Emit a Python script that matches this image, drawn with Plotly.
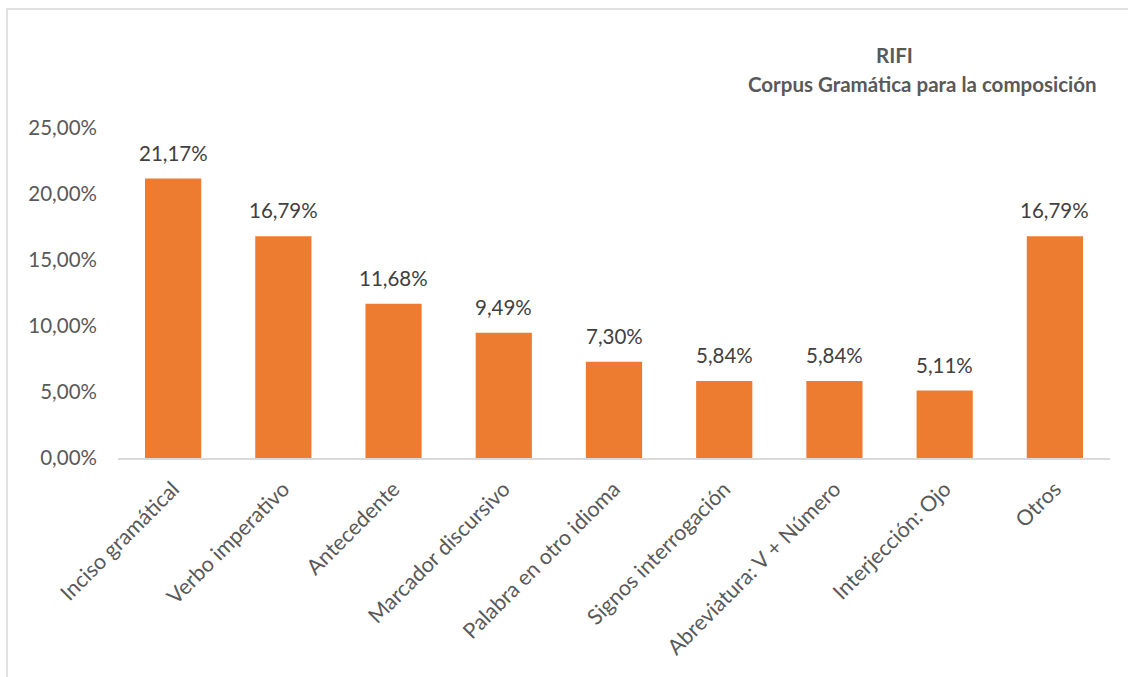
import plotly.graph_objects as go

categories = [
    "Inciso gramátical",
    "Verbo imperativo",
    "Antecedente",
    "Marcador discursivo",
    "Palabra en otro idioma",
    "Signos interrogación",
    "Abreviatura: V + Número",
    "Interjección: Ojo",
    "Otros",
]
values = [0.2117, 0.1679, 0.1168, 0.0949, 0.0730, 0.0584, 0.0584, 0.0511, 0.1679]
tick_vals = [0.0, 0.05, 0.10, 0.15, 0.20, 0.25]

title_top = "RIFI"
title_bottom = "Corpus Gramática para la composición"

label_font = "Lato"
grey = "#595959"

# plot area in pixels, used to place paper-referenced items
PX_L, PX_R, PX_T, PX_B = 118, 1110, 128, 458


def px_x(x):
    return (x - PX_L) / (PX_R - PX_L)


def px_y(y):
    return (PX_B - y) / (PX_B - PX_T)


def pct(v):
    return f"{v * 100:.2f}".replace(".", ",") + "%"


fig = go.Figure()
fig.add_trace(
    go.Bar(
        x=categories,
        y=values,
        marker=dict(color="#EE7C30", line=dict(width=0)),
        hoverinfo="skip",
    )
)

# value labels above each bar
for c, v in zip(categories, values):
    fig.add_annotation(
        x=c, y=v, text=pct(v), showarrow=False,
        xref="x", yref="y", yanchor="bottom", yshift=12,
        font=dict(family=label_font, size=20.5, color="#404040"),
    )

# two-line chart title, top right
fig.add_annotation(
    x=px_x(894), y=px_y(55), xref="paper", yref="paper",
    text=f"<b>{title_top}</b>", showarrow=False, xanchor="center", yanchor="middle",
    font=dict(family="Lato", size=20.5, color=grey),
)
fig.add_annotation(
    x=px_x(1099), y=px_y(84), xref="paper", yref="paper",
    text=f"<b>{title_bottom}</b>", showarrow=False, xanchor="right", yanchor="middle",
    font=dict(family="Lato", size=20.5, color=grey),
)

# chart-area frame
fig.add_shape(
    type="rect", xref="paper", yref="paper",
    x0=px_x(7), x1=px_x(1135), y0=px_y(700), y1=px_y(9),
    line=dict(color="#D9D9D9", width=1.5), fillcolor="rgba(0,0,0,0)", layer="below",
)

fig.update_layout(
    width=1128, height=677,
    margin=dict(l=PX_L, r=1128 - PX_R, t=PX_T, b=677 - PX_B),
    paper_bgcolor="white", plot_bgcolor="white",
    separators=",.",
    bargap=0.49,
    showlegend=False,
    font=dict(family=label_font, color=grey),
)
fig.update_xaxes(
    tickangle=-45, tickfont=dict(family=label_font, size=21.5, color=grey),
    showline=True, linecolor="#D9D9D9", linewidth=2,
    showgrid=False, ticks="", ticklabelstandoff=8,
)
fig.update_yaxes(
    range=[0, 0.25], tickvals=tick_vals, tickformat=".2%",
    tickfont=dict(family=label_font, size=20.5, color=grey),
    showgrid=False, zeroline=False, showline=False, ticks="",
    ticklabelstandoff=20,
)

fig.write_html("out.html")
